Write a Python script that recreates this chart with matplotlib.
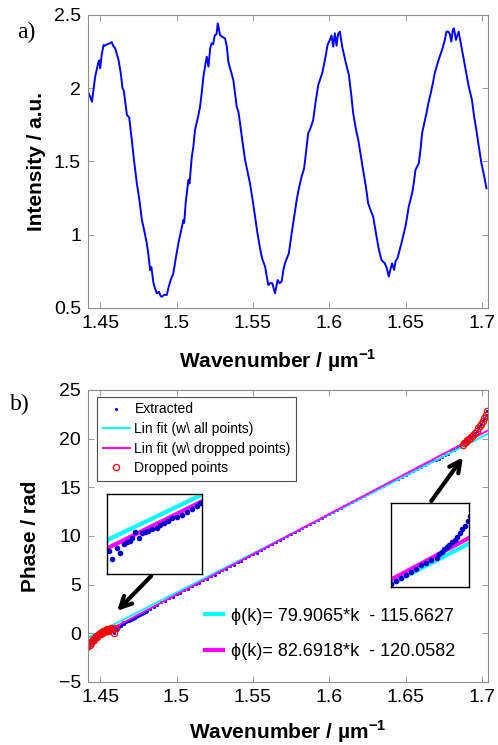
import matplotlib.pyplot as plt
from matplotlib.lines import Line2D
import numpy as np

plt.rcParams['font.family'] = ['Liberation Sans', 'DejaVu Sans']
plt.rcParams['mathtext.fontset'] = 'custom'
plt.rcParams['mathtext.rm'] = 'Liberation Sans'
plt.rcParams['mathtext.bf'] = 'Liberation Sans:bold'

# (a) measured spectrum
wn_a = [1.4424, 1.4435, 1.4446, 1.4457, 1.4467, 1.4478, 1.4489, 1.4495, 1.4500, 1.4510,
        1.4522, 1.4530, 1.4545, 1.4565, 1.4575, 1.4585, 1.4598, 1.4620, 1.4635, 1.4646,
        1.4655, 1.4675, 1.4690, 1.4707, 1.4720, 1.4740, 1.4755, 1.4773, 1.4790, 1.4805,
        1.4815, 1.4827, 1.4835, 1.4849, 1.4860, 1.4871, 1.4885, 1.4897, 1.4904, 1.4920,
        1.4936, 1.4950, 1.4965, 1.4979, 1.4995, 1.5012, 1.5030, 1.5045, 1.5050, 1.5060,
        1.5078, 1.5085, 1.5100, 1.5110, 1.5121, 1.5140, 1.5154, 1.5165, 1.5176, 1.5190,
        1.5198, 1.5209, 1.5220, 1.5230, 1.5240, 1.5250, 1.5262, 1.5270, 1.5285, 1.5300,
        1.5318, 1.5330, 1.5339, 1.5355, 1.5372, 1.5394, 1.5405, 1.5416, 1.5430, 1.5449,
        1.5465, 1.5481, 1.5498, 1.5514, 1.5530, 1.5547, 1.5560, 1.5580, 1.5590, 1.5601,
        1.5615, 1.5627, 1.5645, 1.5662, 1.5675, 1.5688, 1.5700, 1.5710, 1.5736, 1.5754,
        1.5770, 1.5787, 1.5800, 1.5819, 1.5835, 1.5845, 1.5862, 1.5875, 1.5895, 1.5910,
        1.5928, 1.5940, 1.5954, 1.5972, 1.5989, 1.6004, 1.6015, 1.6026, 1.6037, 1.6048,
        1.6058, 1.6070, 1.6085, 1.6107, 1.6129, 1.6145, 1.6157, 1.6175, 1.6190, 1.6201,
        1.6222, 1.6240, 1.6255, 1.6270, 1.6288, 1.6310, 1.6325, 1.6342, 1.6364, 1.6378,
        1.6390, 1.6400, 1.6412, 1.6425, 1.6435, 1.6447, 1.6460, 1.6473, 1.6499, 1.6510,
        1.6521, 1.6543, 1.6555, 1.6565, 1.6587, 1.6600, 1.6608, 1.6620, 1.6637, 1.6650,
        1.6665, 1.6680, 1.6691, 1.6713, 1.6725, 1.6739, 1.6755, 1.6768, 1.6780, 1.6790,
        1.6800, 1.6810, 1.6817, 1.6830, 1.6848, 1.6870, 1.6892, 1.6914, 1.6935, 1.6950,
        1.6964, 1.6980, 1.6997, 1.7015, 1.7030]
intensity = [1.966, 1.94, 1.908, 2.00, 2.079, 2.13, 2.181, 2.19, 2.136, 2.23,
             2.295, 2.29, 2.30, 2.307, 2.315, 2.29, 2.273, 2.193, 2.10, 2.00,
             1.98, 1.817, 1.80, 1.647, 1.52, 1.351, 1.25, 1.101, 1.02, 0.942,
             0.87, 0.759, 0.78, 0.669, 0.63, 0.60, 0.61, 0.58, 0.577, 0.59,
             0.589, 0.65, 0.70, 0.737, 0.84, 0.942, 1.03, 1.101, 1.08, 1.22,
             1.374, 1.35, 1.533, 1.60, 1.715, 1.80, 1.874, 1.97, 2.079, 2.17,
             2.215, 2.147, 2.27, 2.307, 2.30, 2.36, 2.37, 2.443, 2.363, 2.35,
             2.34, 2.28, 2.181, 2.12, 2.056, 1.874, 1.84, 1.761, 1.65, 1.51,
             1.43, 1.351, 1.24, 1.123, 1.01, 0.907, 0.84, 0.782, 0.72, 0.657,
             0.67, 0.669, 0.60, 0.691, 0.67, 0.68, 0.76, 0.805, 0.874, 1.01,
             1.12, 1.237, 1.31, 1.396, 1.45, 1.533, 1.692, 1.72, 1.783, 1.90,
             2.022, 2.06, 2.102, 2.193, 2.295, 2.329, 2.36, 2.284, 2.375, 2.29,
             2.37, 2.386, 2.284, 2.181, 2.09, 1.95, 1.829, 1.72, 1.65, 1.578,
             1.442, 1.33, 1.215, 1.17, 1.123, 0.987, 0.90, 0.828, 0.805, 0.77,
             0.714, 0.76, 0.805, 0.76, 0.82, 0.839, 0.89, 0.942, 1.055, 1.12,
             1.192, 1.283, 1.36, 1.442, 1.488, 1.60, 1.692, 1.75, 1.829, 1.90,
             1.966, 2.04, 2.102, 2.181, 2.22, 2.261, 2.32, 2.386, 2.386, 2.37,
             2.318, 2.40, 2.409, 2.33, 2.386, 2.261, 2.136, 2.011, 1.92, 1.80,
             1.715, 1.60, 1.488, 1.40, 1.317]

# (b) extracted phase
wn_b = [1.4415, 1.4422, 1.4430, 1.4437, 1.4445, 1.4452, 1.4460, 1.4467, 1.4475, 1.4482,
        1.4490, 1.4497, 1.4505, 1.4512, 1.4520, 1.4527, 1.4535, 1.4542, 1.4550, 1.4557,
        1.4565, 1.4572, 1.4584, 1.4592, 1.4603, 1.4611, 1.4621, 1.4627, 1.4635, 1.4641,
        1.4647, 1.4656, 1.4664, 1.4672, 1.4680, 1.4690, 1.4700, 1.4708, 1.4717, 1.4727,
        1.4737, 1.4749, 1.4761, 1.4774, 1.4786, 1.4798, 1.4806,
        1.4825, 1.4850, 1.4875, 1.4900, 1.4925, 1.4950, 1.4975, 1.5000, 1.5025, 1.5050,
        1.5075, 1.5100, 1.5125, 1.5150, 1.5175, 1.5200, 1.5225, 1.5250, 1.5275, 1.5300,
        1.5325, 1.5350, 1.5375, 1.5400, 1.5425, 1.5450, 1.5475, 1.5500, 1.5525, 1.5550,
        1.5575, 1.5600, 1.5625, 1.5650, 1.5675, 1.5700, 1.5725, 1.5750, 1.5775, 1.5800,
        1.5825, 1.5850, 1.5875, 1.5900, 1.5925, 1.5950, 1.5975, 1.6000, 1.6025, 1.6050,
        1.6075, 1.6100, 1.6125, 1.6150, 1.6175, 1.6200, 1.6225, 1.6250, 1.6275, 1.6300,
        1.6325, 1.6350, 1.6375, 1.6400, 1.6425, 1.6450, 1.6475, 1.6500, 1.6525, 1.6550,
        1.6575, 1.6600, 1.6625, 1.6650, 1.6675,
        1.6700, 1.6720, 1.6739, 1.6758, 1.6778, 1.6797, 1.6816, 1.6836, 1.6856,
        1.6876, 1.6885, 1.6895, 1.6905, 1.6915, 1.6925, 1.6935, 1.6945, 1.6955, 1.6965,
        1.6975, 1.6985, 1.6995, 1.7005, 1.7015, 1.7025, 1.7035]
phase = [-1.40, -1.10, -1.25, -0.95, -0.80, -0.60, -0.70, -0.45, -0.30, -0.35,
         -0.10, 0.05, -0.05, 0.15, 0.25, 0.10, 0.30, 0.40, 0.25, 0.45,
         0.35, 0.50, 0.394, 0.068, 0.530, 0.300, 0.665, 0.746, 0.80, 0.909,
         1.18, 0.936, 1.112, 1.18, 1.22, 1.30, 1.315, 1.45, 1.518, 1.60,
         1.721, 1.789, 1.857, 1.992, 2.10, 2.236, 2.33,
         2.50, 2.70, 2.93, 3.17, 3.33, 3.58, 3.74, 4.00, 4.15, 4.41,
         4.57, 4.83, 5.05, 5.17, 5.45, 5.60, 5.87, 6.02, 6.28, 6.47,
         6.64, 6.90, 7.06, 7.31, 7.47, 7.72, 7.90, 8.14, 8.29, 8.55,
         8.76, 8.92, 9.18, 9.33, 9.58, 9.79, 9.95, 10.21, 10.37, 10.62,
         10.78, 11.04, 11.20, 11.45, 11.66, 11.81, 12.07, 12.22, 12.49, 12.64,
         12.90, 13.06, 13.30, 13.47, 13.72, 13.88, 14.13, 14.29, 14.55, 14.70,
         14.92, 15.12, 15.33, 15.52, 15.70, 15.88, 16.10, 16.30, 16.50, 16.71,
         16.90, 17.12, 17.30, 17.50, 17.68,
         17.80, 17.95, 18.12, 18.30, 18.47, 18.68, 18.88, 19.05, 19.20,
         19.35, 19.55, 19.70, 19.85, 20.00, 20.10, 20.25, 20.40, 20.60, 20.80,
         21.05, 21.25, 21.50, 21.80, 22.10, 22.45, 22.85]
drop_lo, drop_hi = 1.4605, 1.6870

# linear fits
fit_slope = [79.9065, 82.6918]
fit_icpt = [-115.6627, -120.0582]
fit_colors = ['#00ffff', '#ff00ff']
fit_names = ['Lin fit (w\\ all points)', 'Lin fit (w\\ dropped points)']

wn_b = np.array(wn_b)
phase = np.array(phase)
dropped = (wn_b < drop_lo) | (wn_b > drop_hi)
k_fit = np.array([wn_b.min(), wn_b.max()])


def style(ax):
    for s in ax.spines.values():
        s.set_color('0.55')
        s.set_linewidth(0.8)
    ax.tick_params(direction='in', top=True, right=True, length=4, width=0.6,
                   color='0.55', labelsize=14, pad=5)


xt = [1.45, 1.5, 1.55, 1.6, 1.65, 1.7]
xtl = ['1.45', '1.5', '1.55', '1.6', '1.65', '1.7']
xlab = 'Wavenumber / µm$^{\\mathbf{-1}}$'

fig = plt.figure(figsize=(4.98, 7.45), dpi=100)

# panel a
ax1 = fig.add_axes([0.1767, 0.5866, 0.8032, 0.3933])
ax1.plot(wn_a, intensity, color='#0000ff', lw=1.4)
ax1.set_xlim(1.442, 1.704)
ax1.set_ylim(0.5, 2.5)
ax1.set_xticks(xt, xtl)
ax1.set_yticks([0.5, 1, 1.5, 2, 2.5], ['0.5', '1', '1.5', '2', '2.5'])
style(ax1)
ax1.set_xlabel(xlab, fontsize=15, fontweight='bold')
ax1.set_ylabel('Intensity / a.u.', fontsize=15, fontweight='bold')
ax1.xaxis.set_label_coords(0.475, -0.135)
ax1.yaxis.set_label_coords(-0.105, 0.5)

# panel b
ax2 = fig.add_axes([0.1767, 0.0846, 0.8032, 0.392])
h_ext, = ax2.plot(wn_b, phase, '.', color='#0000ff', ms=2.5, label='Extracted')
h_fits = []
for m, c, col, name in zip(fit_slope, fit_icpt, fit_colors, fit_names):
    h, = ax2.plot(k_fit, m * k_fit + c, color=col, lw=1.4, label=name)
    h_fits.append(h)
h_drop, = ax2.plot(wn_b[dropped], phase[dropped], 'o', mfc='none', mec='r',
                   ms=4.5, mew=0.9, label='Dropped points')
ax2.set_xlim(1.442, 1.704)
ax2.set_ylim(-5, 25)
ax2.set_xticks(xt, xtl)
ax2.set_yticks(range(-5, 26, 5))
style(ax2)
ax2.set_xlabel(xlab, fontsize=15, fontweight='bold')
ax2.set_ylabel('Phase / rad', fontsize=15, fontweight='bold')
ax2.xaxis.set_label_coords(0.50, -0.125)
ax2.yaxis.set_label_coords(-0.12, 0.5)

leg = ax2.legend(handles=[h_ext] + h_fits + [h_drop], loc='upper left',
                 bbox_to_anchor=(0.0225, 0.976), borderaxespad=0, fontsize=10,
                 handlelength=2.0, handletextpad=0.3, fancybox=False,
                 edgecolor='0.3', framealpha=1, borderpad=0.4, labelspacing=0.4)
leg.get_frame().set_linewidth(0.8)
ax2.add_artist(leg)

eq_handles = [Line2D([], [], color=col, lw=3) for col in fit_colors]
eq_labels = [f'ϕ(k)= {m:.4f}*k  - {abs(c):.4f}' for m, c in zip(fit_slope, fit_icpt)]
ax2.legend(eq_handles, eq_labels, loc='upper left', bbox_to_anchor=(0.2925, 0.255),
           borderaxespad=0, borderpad=0, frameon=False, fontsize=13,
           handlelength=1.0, handletextpad=0.45, labelspacing=1.05)

# arrows from insets
arrow = dict(arrowstyle='->', lw=3, color='k', mutation_scale=20)
ax2.annotate('', xy=(1.4598, 2.09), xytext=(1.4847, 6.10), arrowprops=arrow)
ax2.annotate('', xy=(1.6887, 18.32), xytext=(1.6658, 13.36), arrowprops=arrow)

# insets
insets = [([0.2155, 0.2295, 0.1896, 0.1074], (1.458, 1.481), (-0.54, 2.71)),
          ([0.785, 0.2121, 0.1566, 0.1128], (1.670, 1.700), (17.6, 22.6))]
for rect, xl, yl in insets:
    axi = fig.add_axes(rect)
    for m, c, col in zip(fit_slope, fit_icpt, fit_colors):
        axi.plot(k_fit, m * k_fit + c, color=col, lw=3)
    axi.plot(wn_b, phase, '.', color='#0000cc', ms=6)
    axi.set_xlim(*xl)
    axi.set_ylim(*yl)
    axi.set_xticks([])
    axi.set_yticks([])
    for s in axi.spines.values():
        s.set_color('k')
        s.set_linewidth(1)

fig.text(17 / 498, 1 - 32 / 745, 'a)', family='Liberation Serif', fontsize=17, va='center')
fig.text(10 / 498, 1 - 404 / 745, 'b)', family='Liberation Serif', fontsize=17, va='center')

fig.savefig('out.png', dpi=100)
